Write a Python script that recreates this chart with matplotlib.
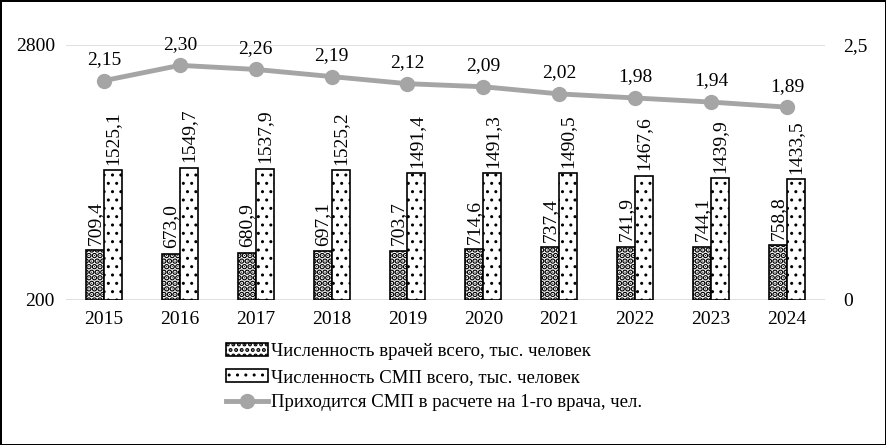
import matplotlib
matplotlib.use("Agg")
import matplotlib.pyplot as plt
import numpy as np
from matplotlib.lines import Line2D

# Data
years = ['2015', '2016', '2017', '2018', '2019', '2020', '2021', '2022', '2023', '2024']
doctors = [709.4, 673.0, 680.9, 697.1, 703.7, 714.6, 737.4, 741.9, 744.1, 758.8]
nurses = [1525.1, 1549.7, 1537.9, 1525.2, 1491.4, 1491.3, 1490.5, 1467.6, 1439.9, 1433.5]
ratio = [2.15, 2.30, 2.26, 2.19, 2.12, 2.09, 2.02, 1.98, 1.94, 1.89]

plt.rcParams['font.family'] = ['Liberation Serif', 'DejaVu Serif']

def fmt(v, nd):
    return f"{v:.{nd}f}".replace('.', ',')

fig = plt.figure(figsize=(8.86, 4.45), dpi=100)
fig.patch.set_edgecolor('black')
fig.patch.set_linewidth(2)
ax = fig.add_axes([0.0745, 0.326, 0.8565, 0.573])
ax2 = ax.twinx()

x = np.arange(len(years))
w = 0.237
fs = 14
hatch_doc = '...'
hatch_smp = '..'

# doctors bars get thicker hatch so the pattern looks dark
plt.rcParams['hatch.linewidth'] = 3.0
b1 = ax.bar(x - w / 2, np.array(doctors) - 200, w, bottom=200, color='white',
            edgecolor='black', linewidth=1.2, hatch=hatch_doc, zorder=3)
plt.rcParams['hatch.linewidth'] = 1.0
b2 = ax.bar(x + w / 2, np.array(nurses) - 200, w, bottom=200, color='white',
            edgecolor='black', linewidth=1.2, hatch=hatch_smp, zorder=3)

for xi, v in zip(x, doctors):
    ax.text(xi - w / 2, v + 55, fmt(v, 1), rotation=90, ha='center', va='bottom', fontsize=fs)
for xi, v in zip(x, nurses):
    ax.text(xi + w / 2, v + 55, fmt(v, 1), rotation=90, ha='center', va='bottom', fontsize=fs)

ax.set_ylim(200, 2800)
ax.set_yticks([200, 2800])
ax.set_xlim(-0.5, len(years) - 0.5)
ax.set_xticks(x)
ax.set_xticklabels(years)
ax.grid(axis='y', color='#d9d9d9', linewidth=1.2, zorder=0)
ax.tick_params(length=0, labelsize=fs, pad=8)
ax.tick_params(axis='y', pad=8)
for s in ax.spines.values():
    s.set_visible(False)

ax2.plot(x, ratio, color='#a5a5a5', linewidth=3.5, marker='o', markersize=10, zorder=4)
for xi, v in zip(x, ratio):
    ax2.annotate(fmt(v, 2), (xi, v), xytext=(0, 9), textcoords='offset points',
                 ha='center', va='bottom', fontsize=fs)
ax2.set_ylim(0, 2.5)
ax2.set_yticks([0, 2.5])
ax2.set_yticklabels(['0', '2,5'])
ax2.tick_params(length=0, labelsize=fs, pad=13)
for s in ax2.spines.values():
    s.set_visible(False)

labels = [
    'Численность врачей всего, тыс. человек',
    'Численность СМП всего, тыс. человек',
    'Приходится СМП в расчете на 1-го врача, чел.',
]
line_handle = Line2D([], [], color='#a5a5a5', linewidth=3.5, marker='o', markersize=10)
plt.rcParams['hatch.linewidth'] = 2.0
leg = fig.legend([b1, b2, line_handle], labels, loc='upper left',
                 bbox_to_anchor=(0.245, 0.25), frameon=False, fontsize=13.5,
                 handlelength=2.2, handletextpad=0.2, labelspacing=0.45, borderpad=0)
# smp legend patch keeps thin dots
smp_patch = leg.get_patches()[1]
if hasattr(smp_patch, 'set_hatch_linewidth'):
    smp_patch.set_hatch_linewidth(1.0)

fig.savefig('out.png', dpi=100)
